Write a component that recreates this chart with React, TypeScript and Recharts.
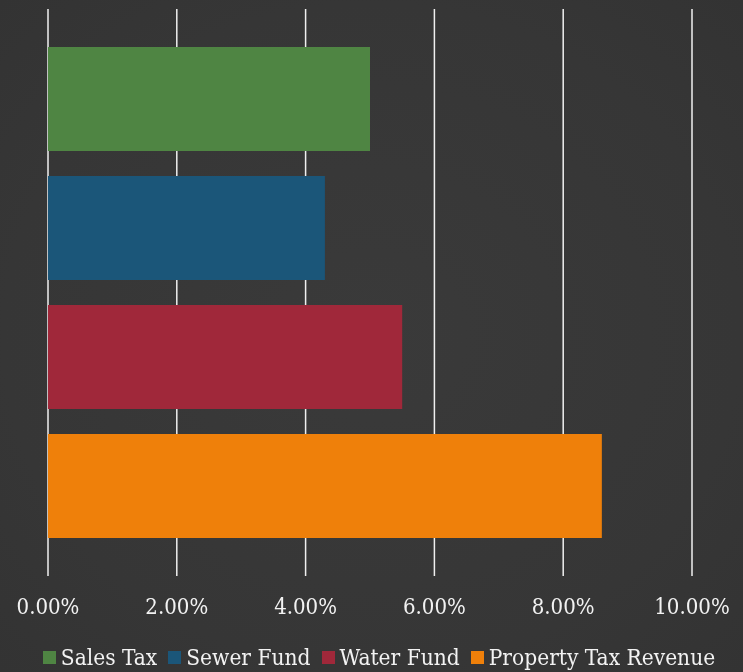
import { BarChart, Bar, XAxis, YAxis, CartesianGrid, Legend } from "recharts";

const categories = ["Rate"];
const salesTax = [0.05];
const sewerFund = [0.043];
const waterFund = [0.055];
const propertyTax = [0.086];
const xTicks = [0, 0.02, 0.04, 0.06, 0.08, 0.1];

const series = [
  { key: "sales", name: "Sales Tax", values: salesTax, color: "#4f8543" },
  { key: "sewer", name: "Sewer Fund", values: sewerFund, color: "#1b5679" },
  { key: "water", name: "Water Fund", values: waterFund, color: "#a0283a" },
  { key: "property", name: "Property Tax Revenue", values: propertyTax, color: "#ef800a" },
];

const data = categories.map((name, i) => {
  const row: Record<string, string | number> = { name };
  series.forEach((s) => (row[s.key] = s.values[i]));
  return row;
});

const font = '"DejaVu Serif Condensed", "DejaVu Serif", serif';

function LegendRow() {
  return (
    <div
      style={{
        display: "flex",
        justifyContent: "center",
        alignItems: "center",
        height: 30,
        paddingLeft: 15,
        fontFamily: font,
        fontSize: 22.5,
        color: "#f2f2f2",
        whiteSpace: "nowrap",
      }}
    >
      {series.map((s, i) => (
        <span
          key={s.key}
          style={{ display: "flex", alignItems: "center", marginRight: i < series.length - 1 ? 11 : 0 }}
        >
          <span style={{ width: 13, height: 13, background: s.color, marginRight: 5 }} />
          {s.name}
        </span>
      ))}
    </div>
  );
}

export default function App() {
  return (
    <div
      style={{
        position: "fixed",
        left: 0,
        top: 0,
        width: 743,
        height: 672,
        background: "radial-gradient(ellipse at center, #3a3a3a 0%, #363636 70%, #333 100%)",
      }}
    >
      <BarChart
        width={743}
        height={672}
        data={data}
        layout="vertical"
        margin={{ top: 9, right: 51, bottom: 36, left: 48 }}
        barCategoryGap={38}
        barGap={25}
      >
        <CartesianGrid horizontal={false} stroke="#f0f0f0" strokeWidth={1.5} />
        <XAxis
          type="number"
          domain={[0, 0.1]}
          ticks={xTicks}
          tickFormatter={(v: number) => `${(v * 100).toFixed(2)}%`}
          axisLine={false}
          tickLine={false}
          tickMargin={16}
          tick={{ fill: "#f2f2f2", fontSize: 22, fontFamily: font }}
          interval={0}
        />
        <YAxis type="category" dataKey="name" hide />
        {series.map((s) => (
          <Bar key={s.key} dataKey={s.key} name={s.name} fill={s.color} isAnimationActive={false} />
        ))}
        <Legend
          verticalAlign="bottom"
          height={30}
          wrapperStyle={{ bottom: 0, left: 0, width: 743 }}
          content={() => <LegendRow />}
        />
      </BarChart>
    </div>
  );
}
